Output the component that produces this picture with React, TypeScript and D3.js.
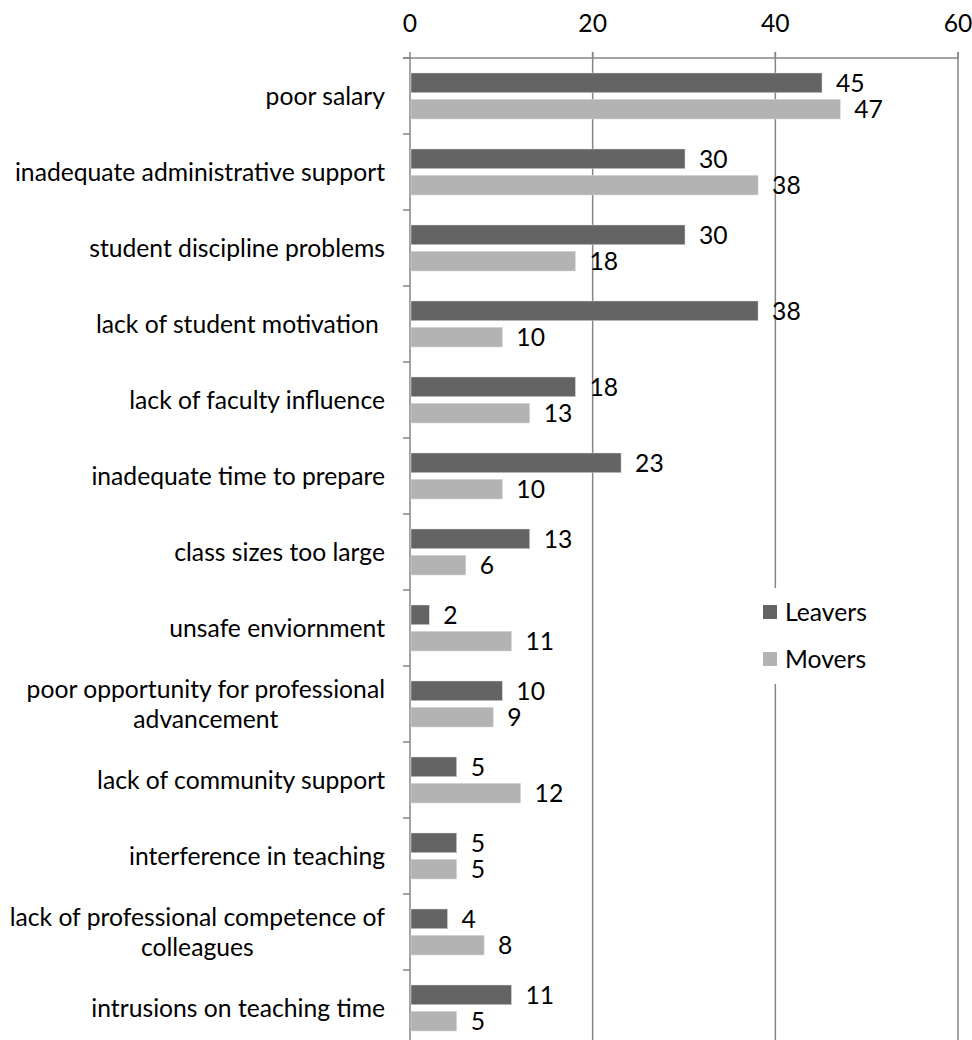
import React, { useEffect, useRef } from "react";
import * as d3 from "d3";

const categories = [
  "poor salary",
  "inadequate administrative support",
  "student discipline problems",
  "lack of student motivation ",
  "lack of faculty influence",
  "inadequate time to prepare",
  "class sizes too large",
  "unsafe enviornment",
  "poor opportunity for professional\nadvancement",
  "lack of community support",
  "interference in teaching",
  "lack of professional competence of\ncolleagues",
  "intrusions on teaching time",
];

const leavers = [45, 30, 30, 38, 18, 23, 13, 2, 10, 5, 5, 4, 11];
const movers = [47, 38, 18, 10, 13, 10, 6, 11, 9, 12, 5, 8, 5];

const seriesNames = ["Leavers", "Movers"];
const seriesColors = ["#646464", "#b3b3b3"];
const xTicks = [0, 20, 40, 60];

export default function App() {
  const svgRef = useRef<SVGSVGElement>(null);

  const width = 972;
  const height = 1040;
  const left = 410;
  const right = 958;
  const top = 58;
  const bottom = 1046;
  const font = "Lato, 'DejaVu Sans', sans-serif";
  const fontSize = 24.7;

  useEffect(() => {
    const svg = d3.select(svgRef.current);
    svg.selectAll("*").remove();

    const x = d3.scaleLinear().domain([0, 60]).range([left, right]);
    const y = d3.scaleBand<number>().domain(d3.range(categories.length)).range([top, bottom]);
    const sub = d3.scaleBand<string>().domain(seriesNames).range([15, 61]).paddingInner(0.25);
    const data = [leavers, movers];

    // gridlines
    svg
      .append("g")
      .selectAll("line")
      .data(xTicks.slice(1))
      .join("line")
      .attr("x1", (d) => x(d))
      .attr("x2", (d) => x(d))
      .attr("y1", top - 6)
      .attr("y2", height)
      .attr("stroke", "#868686")
      .attr("stroke-width", 1.5);

    // top axis
    const xAxis = svg.append("g");
    xAxis
      .append("line")
      .attr("x1", left - 7)
      .attr("x2", right)
      .attr("y1", top)
      .attr("y2", top)
      .attr("stroke", "#868686")
      .attr("stroke-width", 1.5);
    xAxis
      .selectAll("line.tick")
      .data(xTicks)
      .join("line")
      .attr("class", "tick")
      .attr("x1", (d) => x(d))
      .attr("x2", (d) => x(d))
      .attr("y1", top - 6)
      .attr("y2", top)
      .attr("stroke", "#868686")
      .attr("stroke-width", 1.5);
    xAxis
      .selectAll("text")
      .data(xTicks)
      .join("text")
      .attr("x", (d) => x(d))
      .attr("y", 32)
      .attr("text-anchor", "middle")
      .attr("font-family", font)
      .attr("font-size", fontSize)
      .attr("fill", "#000")
      .text((d) => d);

    // left axis
    const yAxis = svg.append("g");
    yAxis
      .append("line")
      .attr("x1", left)
      .attr("x2", left)
      .attr("y1", top)
      .attr("y2", height)
      .attr("stroke", "#868686")
      .attr("stroke-width", 1.5);
    yAxis
      .selectAll("line.tick")
      .data(d3.range(categories.length + 1))
      .join("line")
      .attr("class", "tick")
      .attr("x1", left - 7)
      .attr("x2", left)
      .attr("y1", (i) => top + i * y.step())
      .attr("y2", (i) => top + i * y.step())
      .attr("stroke", "#868686")
      .attr("stroke-width", 1.5);

    // category labels
    categories.forEach((c, i) => {
      const lines = c.split("\n");
      const cy = (y(i) as number) + y.bandwidth() / 2;
      const g = yAxis.append("g");
      const texts = g
        .selectAll("text")
        .data(lines)
        .join("text")
        .attr("y", (_, j) => cy + (j - (lines.length - 1) / 2) * 30)
        .attr("dy", "0.35em")
        .attr("font-family", font)
        .attr("font-size", fontSize)
        .attr("fill", "#000")
        .style("white-space", "pre")
        .text((d) => d);
      if (lines.length === 1) {
        texts.attr("x", left - 25).attr("text-anchor", "end");
      } else {
        let w = 0;
        texts.each(function () {
          w = Math.max(w, (this as SVGTextElement).getComputedTextLength());
        });
        texts.attr("x", left - 25 - w / 2).attr("text-anchor", "middle");
      }
    });

    // bars
    seriesNames.forEach((s, si) => {
      const g = svg.append("g");
      g.selectAll("rect")
        .data(data[si])
        .join("rect")
        .attr("x", x(0) + 1)
        .attr("y", (_, i) => (y(i) as number) + (sub(s) as number))
        .attr("width", (d) => x(d) - x(0))
        .attr("height", sub.bandwidth())
        .attr("fill", seriesColors[si])
        .attr("stroke", "#d9d9d9")
        .attr("stroke-width", 0.5);
      g.selectAll("text")
        .data(data[si])
        .join("text")
        .attr("x", (d) => x(d) + 15)
        .attr("y", (_, i) => (y(i) as number) + (sub(s) as number) + sub.bandwidth() / 2)
        .attr("dy", "0.35em")
        .attr("font-family", font)
        .attr("font-size", fontSize)
        .attr("fill", "#000")
        .text((d) => d);
    });

    // legend
    const lg = svg.append("g");
    lg.append("rect")
      .attr("x", 752)
      .attr("y", 588)
      .attr("width", 135)
      .attr("height", 96)
      .attr("fill", "#fff");
    seriesNames.forEach((s, si) => {
      const ly = 612 + si * 47;
      lg.append("rect")
        .attr("x", 763)
        .attr("y", ly - 7)
        .attr("width", 14)
        .attr("height", 14)
        .attr("fill", seriesColors[si]);
      lg.append("text")
        .attr("x", 785)
        .attr("y", ly)
        .attr("dy", "0.35em")
        .attr("font-family", font)
        .attr("font-size", fontSize)
        .attr("fill", "#000")
        .text(s);
    });
  }, []);

  return (
    <svg
      ref={svgRef}
      width={width}
      height={height}
      style={{ position: "absolute", left: 0, top: 0, background: "#fff" }}
    ></svg>
  );
}
